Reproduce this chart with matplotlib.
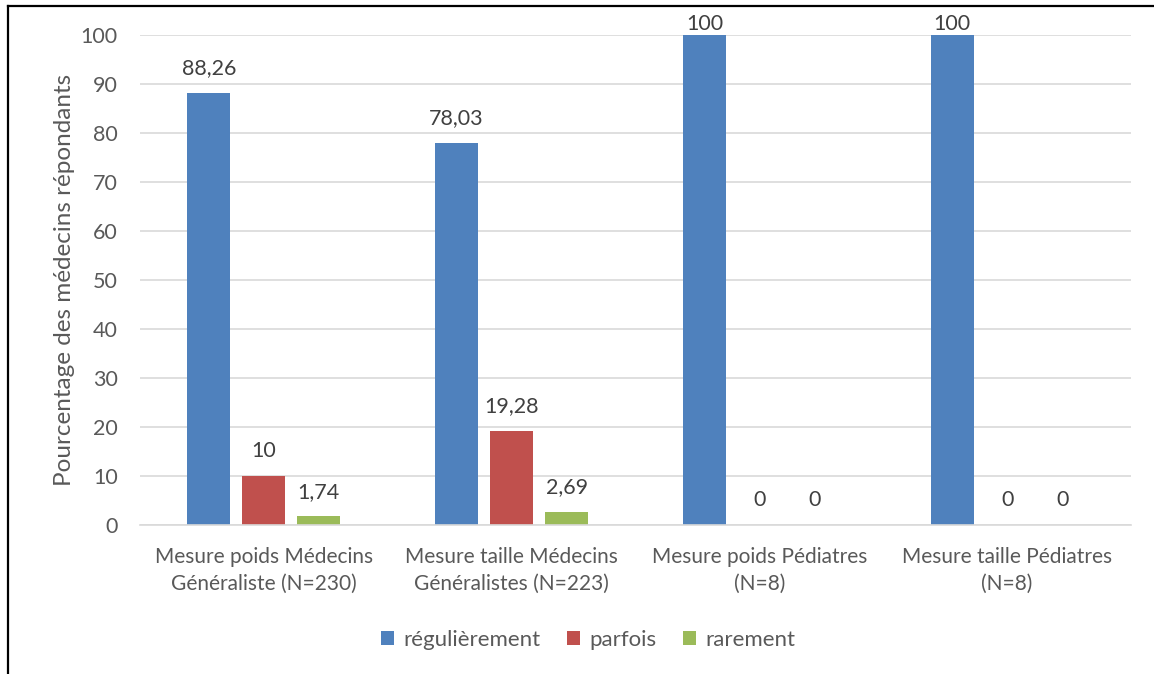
import numpy as np
import matplotlib.pyplot as plt
from matplotlib.lines import Line2D

plt.rcParams['font.family'] = ['Lato', 'DejaVu Sans']

categories = ["Mesure poids Médecins\nGénéraliste (N=230)",
              "Mesure taille Médecins\nGénéralistes (N=223)",
              "Mesure poids Pédiatres\n(N=8)",
              "Mesure taille Pédiatres\n(N=8)"]
regulierement = [88.26, 78.03, 100, 100]
parfois = [10, 19.28, 0, 0]
rarement = [1.74, 2.69, 0, 0]

series = [("régulièrement", regulierement, "#4f81bd"),
          ("parfois", parfois, "#c0504d"),
          ("rarement", rarement, "#9bbb59")]

txt = "#595959"
fig = plt.figure(figsize=(11.54, 6.74), dpi=100)
ax = fig.add_axes([140 / 1154, 1 - 525 / 674, 991 / 1154, 490 / 674])

x = np.arange(len(categories))
w = 0.174
step = 0.222
for i, (name, vals, col) in enumerate(series):
    pos = x + (i - 1) * step
    ax.bar(pos, vals, width=w, color=col, label=name, zorder=2)
    for p, v in zip(pos, vals):
        s = f"{v:g}".replace(".", ",")
        # les étiquettes restent sous le bord du graphique
        ax.text(p, min(v + 3.0, 100.3), s, ha="center", va="bottom",
                fontsize=15.5, color="#404040", clip_on=False)

ax.set_xlim(-0.5, 3.5)
ax.set_ylim(0, 100)
ax.set_yticks(range(0, 101, 10))
ax.yaxis.grid(True, color="#d9d9d9", linewidth=1.2, zorder=0)
ax.set_axisbelow(True)
for sp in ["left", "right", "top"]:
    ax.spines[sp].set_visible(False)
ax.spines["bottom"].set_color("#d9d9d9")
ax.spines["bottom"].set_linewidth(1.2)
ax.tick_params(axis="y", length=0, labelsize=15.5, colors=txt, pad=16)
ax.set_xticks(x)
ax.set_xticklabels(categories, linespacing=1.4)
ax.tick_params(axis="x", length=0, labelsize=15, colors=txt, pad=16)
ax.set_ylabel("Pourcentage des médecins répondants", fontsize=17.5,
              color=txt, labelpad=4)

fig.legend(loc="center", bbox_to_anchor=(588 / 1154, 1 - 640 / 674), ncol=3,
           frameon=False, fontsize=16, labelcolor=txt, handlelength=0.6,
           handleheight=0.6, handletextpad=0.4, columnspacing=1.2)

# cadre gauche et haut
fig.add_artist(Line2D([8 / 1154, 8 / 1154], [0, 1 - 6 / 674], color="black",
                      linewidth=1.6, transform=fig.transFigure))
fig.add_artist(Line2D([8 / 1154, 1], [1 - 6 / 674, 1 - 6 / 674], color="black",
                      linewidth=1.6, transform=fig.transFigure))

fig.savefig("out.png", dpi=100)
